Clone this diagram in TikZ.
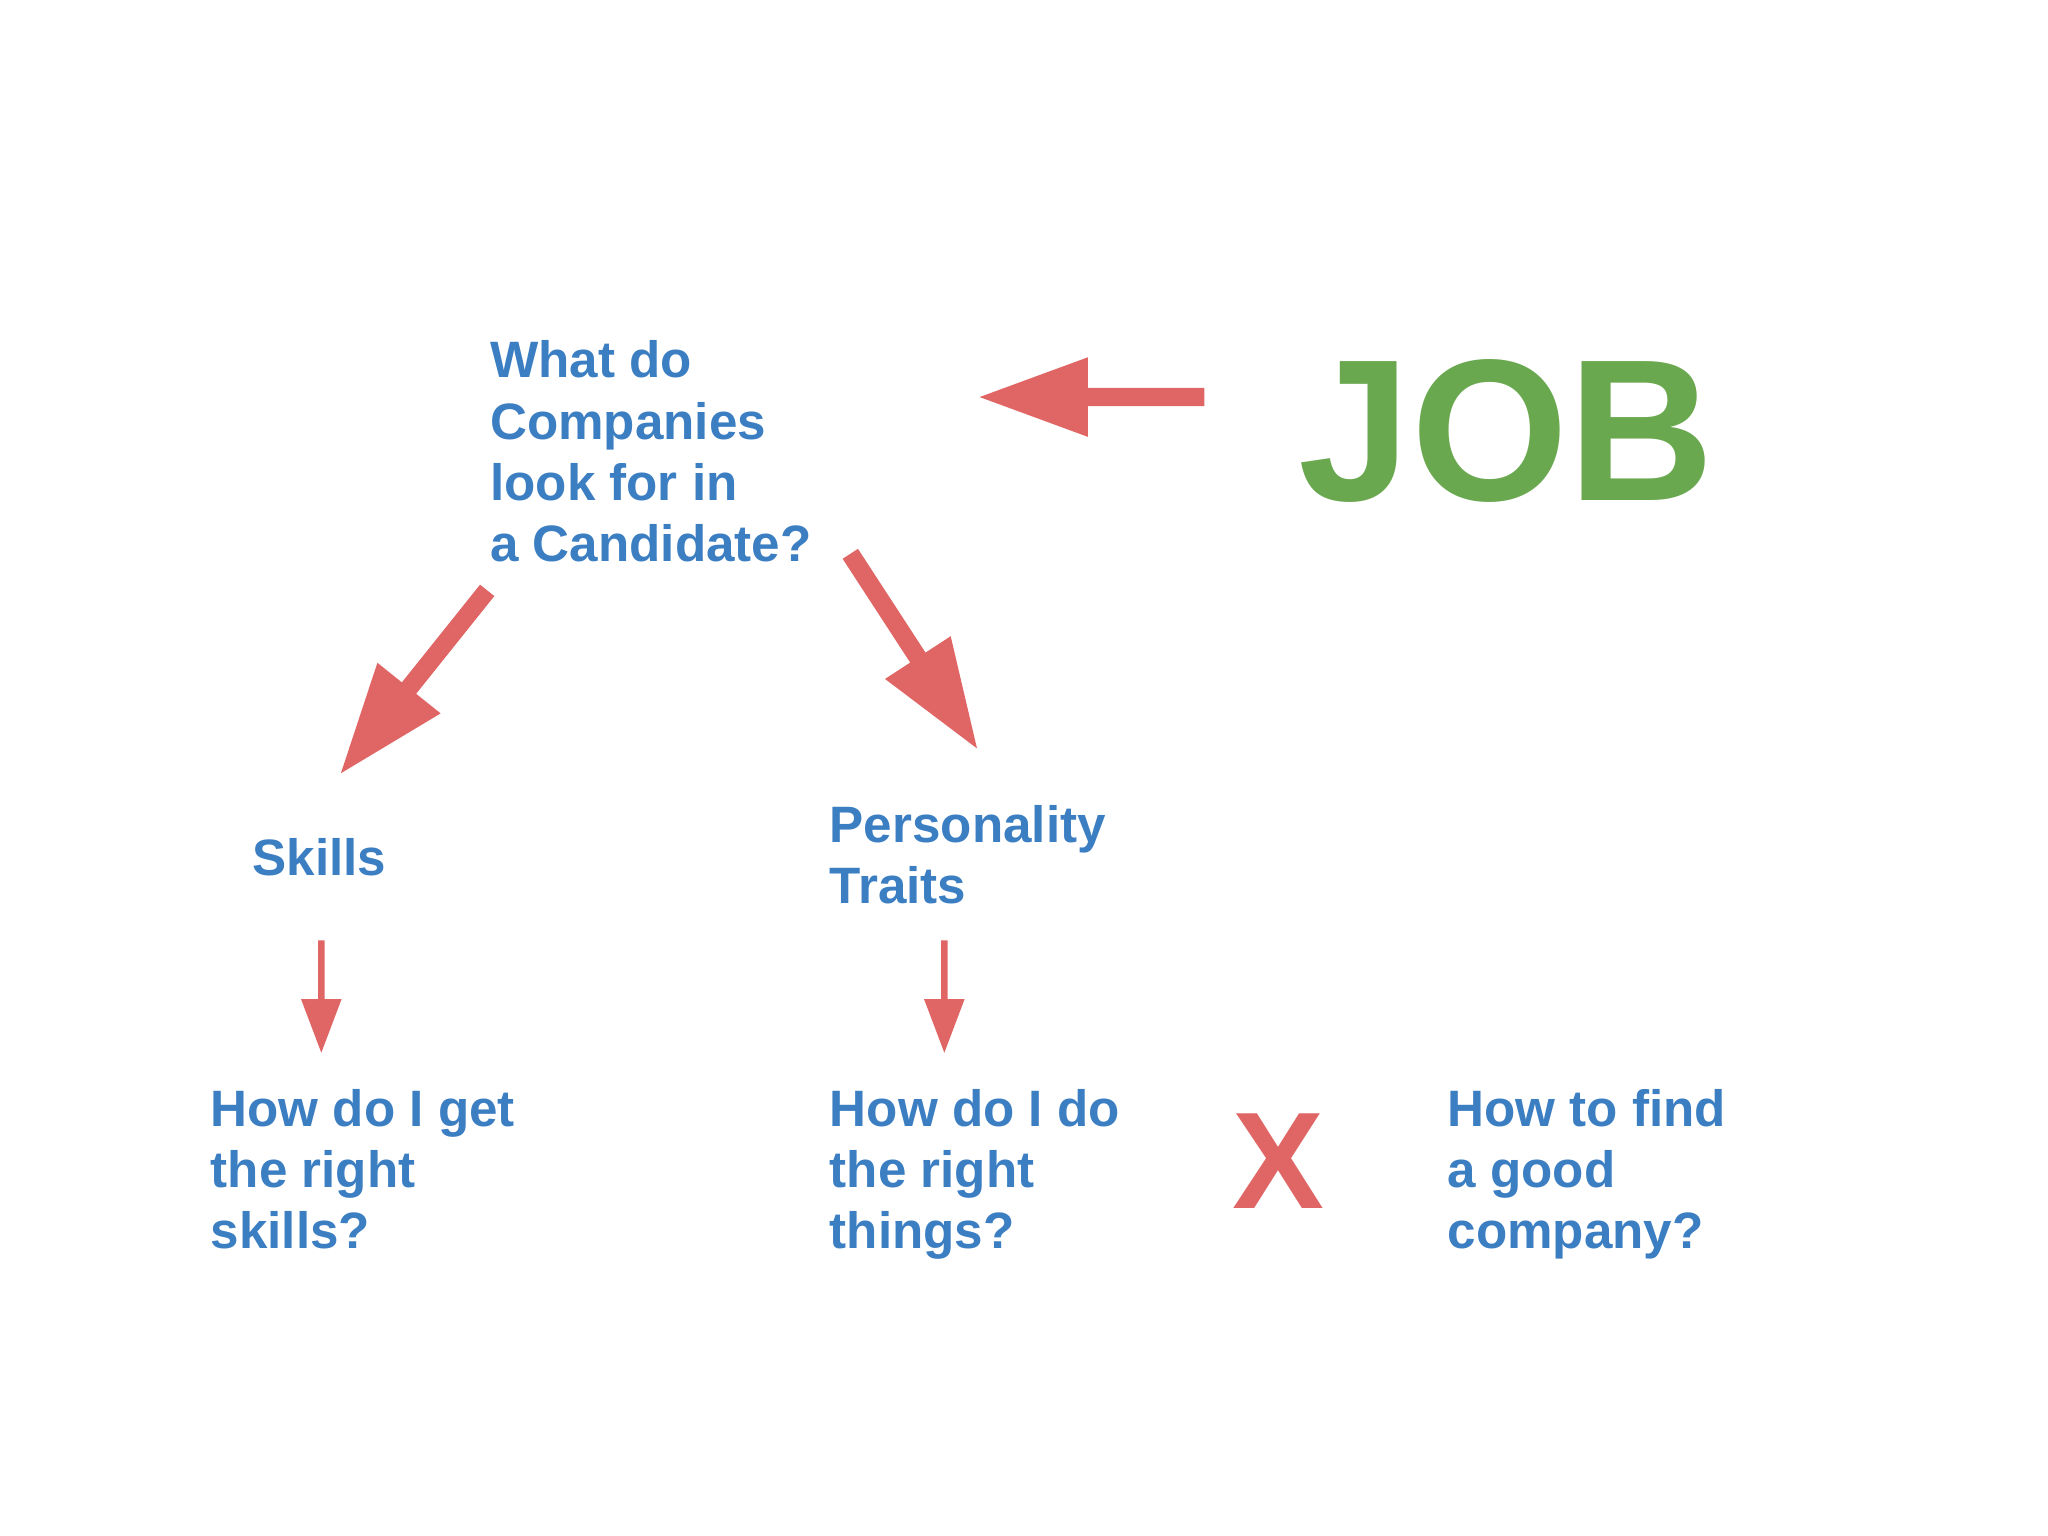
\documentclass[tikz,border=0pt]{standalone}
\usepackage{fontspec}
\setmainfont{Liberation Sans}
\usetikzlibrary{calc}
\definecolor{txtblue}{HTML}{3C7EC2}
\definecolor{arrred}{HTML}{E06666}
\definecolor{jobgreen}{HTML}{6AA84F}
\newcommand\blockarr[5]{%
  \coordinate (hb) at ($(#2)!#4!(#1)$);
  \fill[arrred] ($(#1)!#3!90:(#2)$) -- ($(hb)!#3!90:(#2)$) -- ($(hb)!#5!90:(#2)$) -- (#2)
    -- ($(hb)!#5!-90:(#2)$) -- ($(hb)!#3!-90:(#2)$) -- ($(#1)!#3!-90:(#2)$) -- cycle;}
\tikzset{lbl/.style={anchor=base west,inner sep=0pt,text=txtblue,font=\fontsize{22.3}{26.7}\selectfont\bfseries,align=left}}
\begin{document}
\begin{tikzpicture}[x=0.02cm,y=-0.02cm]
\useasboundingbox (0,0) rectangle (1568,1176);
\node[lbl] (q) at (375,430) {What do\\Companies\\look for in\\a Candidate?};
\node[anchor=base west,inner sep=0pt,text=jobgreen,font=\fontsize{88}{88}\selectfont\bfseries] (job) at (994,383) {JOB};
\node[lbl] (skills) at (193,670) {Skills};
\node[lbl] (pers) at (635,692) {Personality\\Traits};
\node[lbl] (h1) at (161,956) {How do I get\\the right\\skills?};
\node[lbl] (h2) at (635,956) {How do I do\\the right\\things?};
\node[lbl] (h3) at (1108,956) {How to find\\a good\\company?};
\node[anchor=base west,inner sep=0pt,text=arrred,font=\fontsize{60}{60}\selectfont\bfseries] (x) at (943,925) {X};
\coordinate (a0s) at (922,304); \coordinate (a0t) at (750,304);
\coordinate (a1s) at (373,452); \coordinate (a1t) at (261,592);
\coordinate (a2s) at (651,424); \coordinate (a2t) at (748,573);
\coordinate (a3s) at (246,720); \coordinate (a3t) at (246,806);
\coordinate (a4s) at (723,720); \coordinate (a4t) at (723,806);
\blockarr{a0s}{a0t}{0.14cm}{1.66cm}{0.61cm}
\blockarr{a1s}{a1t}{0.14cm}{1.67cm}{0.62cm}
\blockarr{a2s}{a2t}{0.14cm}{1.66cm}{0.60cm}
\blockarr{a3s}{a3t}{0.05cm}{0.82cm}{0.31cm}
\blockarr{a4s}{a4t}{0.05cm}{0.82cm}{0.31cm}
\end{tikzpicture}
\end{document}
